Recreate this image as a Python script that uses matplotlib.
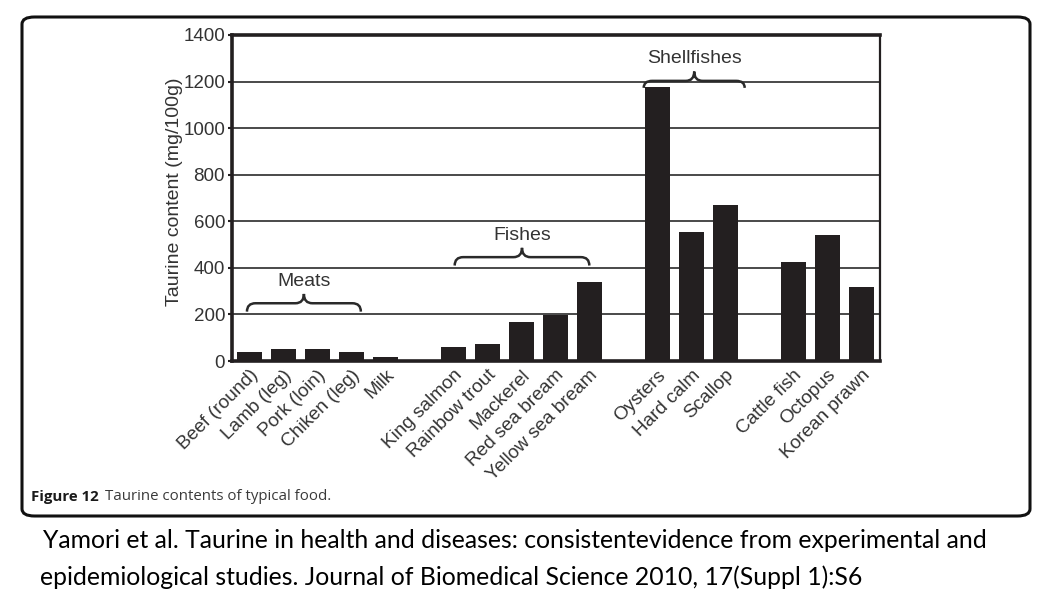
import matplotlib.pyplot as plt
from matplotlib.path import Path
from matplotlib.patches import PathPatch, FancyBboxPatch

# Taurine content (mg/100g), blank labels are the spacer slots between groups
foods = ['Beef (round)', 'Lamb (leg)', 'Pork (loin)', 'Chiken (leg)', 'Milk', '',
         'King salmon', 'Rainbow trout', 'Mackerel', 'Red sea bream', 'Yellow sea bream', '',
         'Oysters', 'Hard calm', 'Scallop', '',
         'Cattle fish', 'Octopus', 'Korean prawn']
taurine = [40, 50, 50, 37, 16, 4,
           58, 75, 168, 196, 340, 4,
           1178, 552, 668, 4,
           424, 539, 317]

# group brackets: (label, first index, last index, brace level)
groups = [('Meats', -0.07, 3.28, 248),
          ('Fishes', 6.04, 10.0, 446),
          ('Shellfishes', 11.6, 14.57, 1203)]

yticks = [0, 200, 400, 600, 800, 1000, 1200, 1400]

plt.rcParams['font.family'] = ['Liberation Sans', 'DejaVu Sans']
ink = '#231f20'
txt = '#333333'

fig = plt.figure(figsize=(10.45, 5.94), dpi=100)
fig.patch.set_facecolor('white')

# rounded frame round the figure panel
frame = FancyBboxPatch((22 / 1045, 1 - 516 / 594), (1030 - 22) / 1045, (516 - 17) / 594,
                       boxstyle='round,pad=0,rounding_size=0.012', transform=fig.transFigure,
                       fill=False, edgecolor='#111111', linewidth=2.2)
fig.patches.append(frame)

ax = fig.add_axes([232 / 1045, 1 - 361 / 594, (880 - 232) / 1045, (361 - 35) / 594])
x = list(range(len(foods)))
ax.bar(x, taurine, width=0.74, color=ink, zorder=3)

ax.set_ylim(0, 1400)
ax.set_xlim(-0.51, 18.55)
ax.set_yticks(yticks)
ax.yaxis.grid(True, color='#2a2a2a', linewidth=1.2, zorder=1)
ax.set_xticks(x)
ax.set_xticklabels(foods, rotation=45, ha='right', rotation_mode='anchor',
                   fontsize=13.7, color=txt)
ax.tick_params(axis='x', length=0, pad=4)
ax.tick_params(axis='y', length=3, width=1.5, color=ink, pad=2,
               labelsize=13.5, labelcolor=txt)
ax.set_ylabel('Taurine content (mg/100g)', fontsize=14, color=txt)
ax.yaxis.set_label_coords(-0.076, 0.52)

for side in ['left', 'top', 'bottom']:
    ax.spines[side].set_linewidth(2.6)
    ax.spines[side].set_color(ink)
ax.spines['right'].set_linewidth(1.6)
ax.spines['right'].set_color(ink)

# curly braces over the groups
for name, x1, x2, yb in groups:
    xm = (x1 + x2) / 2
    d = 36 if name != 'Shellfishes' else 30
    h = 40
    r = 0.25
    verts = [(x1, yb - d), (x1, yb), (x1 + r, yb),
             (xm - r, yb), (xm, yb), (xm, yb + h),
             (xm, yb), (xm + r, yb),
             (x2 - r, yb), (x2, yb), (x2, yb - d)]
    codes = [Path.MOVETO, Path.CURVE3, Path.CURVE3,
             Path.LINETO, Path.CURVE3, Path.CURVE3,
             Path.CURVE3, Path.CURVE3,
             Path.LINETO, Path.CURVE3, Path.CURVE3]
    ax.add_patch(PathPatch(Path(verts, codes), fill=False, edgecolor='#2a2a2a',
                           linewidth=1.8, zorder=4))
    ax.text(xm, yb + h + 18, name, ha='center', va='bottom', fontsize=14,
            color=txt, zorder=4)

# caption inside the frame
fig.text(31 / 1045, 1 - 497 / 594, 'Figure 12', fontsize=10.8, fontweight='bold',
         color='#1a1a1a', va='center', family='Open Sans')
fig.text(105 / 1045, 1 - 497 / 594, 'Taurine contents of typical food.', fontsize=10.8,
         color='#3a3a3a', va='center', family='Open Sans')

# citation below the frame
fig.text(43 / 1045, 1 - 540 / 594,
         'Yamori et al. Taurine in health and diseases: consistentevidence from experimental and',
         fontsize=17.8, color='black', va='center', family='Lato')
fig.text(40 / 1045, 1 - 577 / 594,
         'epidemiological studies. Journal of Biomedical Science 2010, 17(Suppl 1):S6',
         fontsize=17.8, color='black', va='center', family='Lato')

fig.savefig('out.png', dpi=100, facecolor='white')
